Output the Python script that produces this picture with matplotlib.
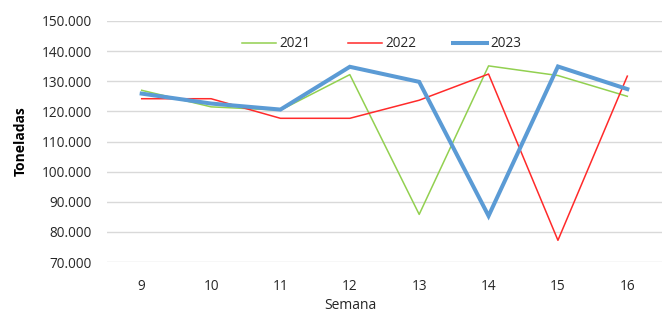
import matplotlib
matplotlib.use("Agg")
import matplotlib.pyplot as plt
from matplotlib.ticker import FuncFormatter

weeks = ["9", "10", "11", "12", "13", "14", "15", "16"]
s2021 = [127000, 121500, 120400, 132200, 85800, 135100, 131900, 125000]
s2022 = [124200, 124200, 117700, 117700, 123700, 132400, 77200, 131700]
s2023 = [125900, 122600, 120600, 134800, 129800, 85300, 134900, 127400]
yticks = [70000, 80000, 90000, 100000, 110000, 120000, 130000, 140000, 150000]

plt.rcParams['font.family'] = ['Open Sans', 'DejaVu Sans']

fig = plt.figure(figsize=(6.7, 3.14), dpi=100)
ax = fig.add_axes([107/670, 1 - 262/314, (662-107)/670, (262-21)/314])

x = list(range(len(weeks)))
ax.plot(x, s2021, color="#92D050", lw=1.1, label="2021", zorder=3)
ax.plot(x, s2022, color="#FF2A2A", lw=1.1, label="2022", zorder=3)
ax.plot(x, s2023, color="#5B9BD5", lw=2.9, label="2023", zorder=4,
        solid_joinstyle="miter")

ax.set_xlim(-0.5, len(weeks) - 0.5)
ax.set_ylim(70000, 150000)
ax.set_yticks(yticks)
ax.yaxis.set_major_formatter(FuncFormatter(lambda v, p: f"{int(v):,}".replace(",", ".")))
ax.set_xticks(x)
ax.set_xticklabels(weeks)
ax.grid(axis="y", color="#D9D9D9", lw=1.0, zorder=0)
for s in ax.spines.values():
    s.set_visible(False)
ax.tick_params(axis="both", length=0, labelsize=9.8, colors="#404040", labelcolor="#262626")
ax.tick_params(axis="y", pad=11)
ax.tick_params(axis="x", pad=12)

ax.set_ylabel("Toneladas", fontsize=10, fontweight="bold", color="black", labelpad=10)
ax.set_xlabel("Semana", fontsize=10, color="#262626", labelpad=3)
ax.xaxis.set_label_coords((350 - 107) / 555, -0.148, transform=ax.transAxes)
ax.xaxis.label.set_va("top")

leg = ax.legend(loc="center", bbox_to_anchor=(0.495, 0.905), ncol=3, frameon=False,
                fontsize=9.8, handlelength=2.5, columnspacing=2.75, handletextpad=0.25)
for t in leg.get_texts():
    t.set_color("#262626")

fig.savefig("out.png", dpi=100)
